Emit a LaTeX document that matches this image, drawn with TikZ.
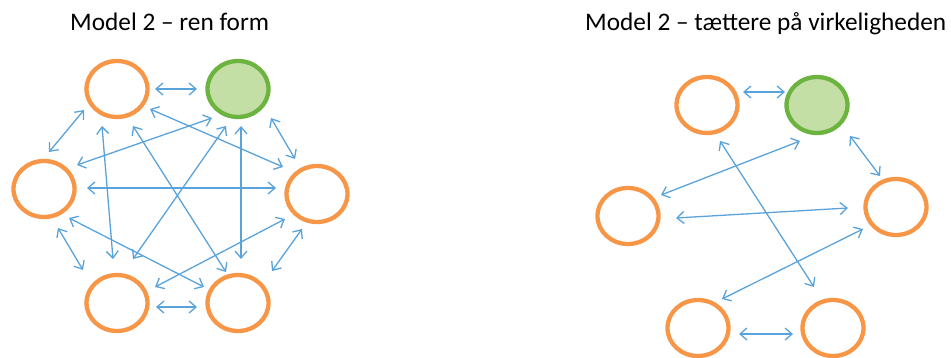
\documentclass[tikz,border=0pt]{standalone}
\usepackage{fontspec}
\setmainfont{Carlito}
\usetikzlibrary{shapes.geometric,arrows.meta}
\definecolor{orng}{HTML}{F79646}
\definecolor{grnline}{HTML}{6CB33F}
\definecolor{grnfill}{HTML}{C4DFA6}
\definecolor{arrblue}{HTML}{5AA3DA}
\tikzset{
  person/.style={ellipse, draw=orng, line width=4.3pt, minimum width=61pt, minimum height=56pt, inner sep=0pt},
  special/.style={person, draw=grnline, fill=grnfill},
  link/.style={draw=arrblue, line width=1.3pt, {Straight Barb[length=7pt,width=12pt]}-{Straight Barb[length=7pt,width=12pt]}},
  title/.style={anchor=base west, inner sep=0pt, font=\fontsize{25.3}{30}\selectfont}
}
\begin{document}
\begin{tikzpicture}[x=1pt,y=-1pt]
\useasboundingbox (0,0) rectangle (951,358);
% titles
\node[title] (t1) at (70,31) {Model 2 – ren form};
\node[title] (t2) at (585,31) {Model 2 – tættere på virkeligheden};
% left diagram
\node[person]  (tl) at (117,89) {};
\node[special] (g)  at (238,89) {};
\node[person]  (l)  at (44,189) {};
\node[person]  (r)  at (317,194) {};
\node[person]  (bl) at (117,303) {};
\node[person]  (br) at (238,303) {};
\draw[link] ([shift={(38,0)}]tl.center) -- ([shift={(-41,0)}]g.center);
\draw[link] ([shift={(-33,21)}]tl.center) -- ([shift={(5,-37)}]l.center);
\draw[link] ([shift={(-15,37)}]tl.center) -- ([shift={(-4,-44)}]bl.center);
\draw[link] ([shift={(16,37)}]tl.center) -- ([shift={(-12,-31)}]br.center);
\draw[link] ([shift={(33,20)}]tl.center) -- ([shift={(-34,-27)}]r.center);
\draw[link] ([shift={(-26,29)}]g.center) -- ([shift={(33,-24)}]l.center);
\draw[link] ([shift={(-12,37)}]g.center) -- ([shift={(16,-44)}]bl.center);
\draw[link] ([shift={(3,37)}]g.center) -- ([shift={(3,-44)}]br.center);
\draw[link] ([shift={(33,29)}]g.center) -- ([shift={(-22,-35)}]r.center);
\draw[link] ([shift={(43,-1)}]l.center) -- ([shift={(-41,-6)}]r.center);
\draw[link] ([shift={(14,39)}]l.center) -- ([shift={(-34,-33)}]bl.center);
\draw[link] ([shift={(25,29)}]l.center) -- ([shift={(-34,-16)}]br.center);
\draw[link] ([shift={(-32,25)}]r.center) -- ([shift={(38,-16)}]bl.center);
\draw[link] ([shift={(-15,35)}]r.center) -- ([shift={(34,-32)}]br.center);
\draw[link] ([shift={(39,4)}]bl.center) -- ([shift={(-41,4)}]br.center);
% right diagram
\node[person]  (tl2) at (707,105) {};
\node[special] (g2)  at (817,105) {};
\node[person]  (l2)  at (628,216) {};
\node[person]  (r2)  at (896,207) {};
\node[person]  (bl2) at (698,328) {};
\node[person]  (br2) at (833,328) {};
\draw[link] ([shift={(36,-13)}]tl2.center) -- ([shift={(-32,-13)}]g2.center);
\draw[link] ([shift={(-17,36)}]g2.center) -- ([shift={(33,-21)}]l2.center);
\draw[link] ([shift={(33,31)}]g2.center) -- ([shift={(-16,-31)}]r2.center);
\draw[link] ([shift={(48,2)}]l2.center) -- ([shift={(-48,1)}]r2.center);
\draw[link] ([shift={(13,36)}]tl2.center) -- ([shift={(-19,-41)}]br2.center);
\draw[link] ([shift={(-33,22)}]r2.center) -- ([shift={(24,-29)}]bl2.center);
\draw[link] ([shift={(41,6)}]bl2.center) -- ([shift={(-40,6)}]br2.center);
\end{tikzpicture}
\end{document}
